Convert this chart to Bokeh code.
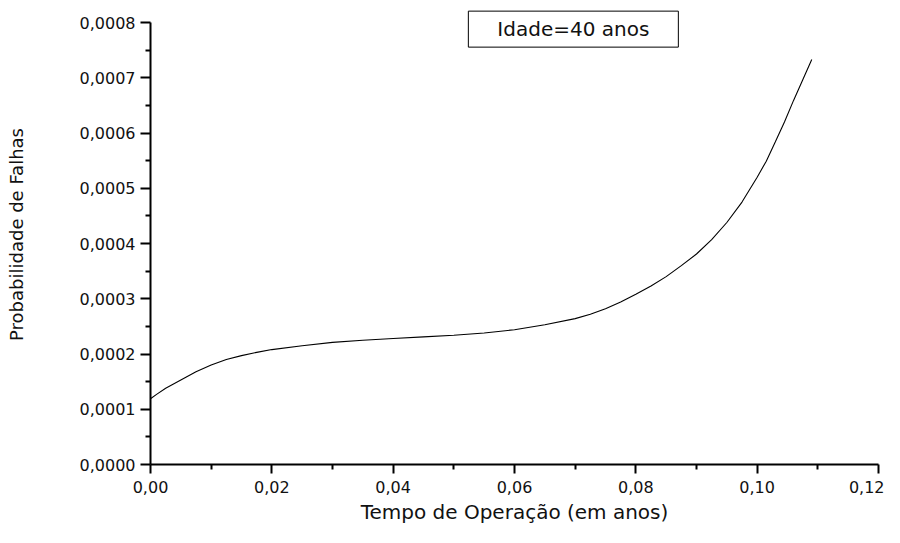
from bokeh.plotting import figure
from bokeh.models import FixedTicker, CustomJSTickFormatter, Label, Range1d
from bokeh.embed import file_html
from bokeh.resources import INLINE

# Data
tempo = [0, 0.001, 0.0025, 0.005, 0.0075, 0.01, 0.0125, 0.015, 0.0175, 0.02,
         0.025, 0.03, 0.035, 0.04, 0.045, 0.05, 0.055, 0.06, 0.065, 0.07,
         0.0725, 0.075, 0.0775, 0.08, 0.0825, 0.085, 0.0875, 0.09, 0.0925,
         0.095, 0.0975, 0.1, 0.1015, 0.103, 0.1045, 0.106, 0.1075, 0.109]
prob = [1.19e-4, 1.27e-4, 1.38e-4, 1.53e-4, 1.68e-4, 1.80e-4, 1.90e-4, 1.97e-4,
        2.03e-4, 2.08e-4, 2.15e-4, 2.21e-4, 2.25e-4, 2.28e-4, 2.31e-4, 2.34e-4,
        2.38e-4, 2.44e-4, 2.53e-4, 2.64e-4, 2.72e-4, 2.82e-4, 2.94e-4, 3.08e-4,
        3.23e-4, 3.40e-4, 3.60e-4, 3.81e-4, 4.07e-4, 4.38e-4, 4.75e-4, 5.20e-4,
        5.49e-4, 5.84e-4, 6.20e-4, 6.59e-4, 6.96e-4, 7.33e-4]
x_ticks = [0.0, 0.02, 0.04, 0.06, 0.08, 0.10, 0.12]
x_minor = [0.01, 0.03, 0.05, 0.07, 0.09, 0.11]
y_ticks = [0.0, 0.0001, 0.0002, 0.0003, 0.0004, 0.0005, 0.0006, 0.0007, 0.0008]
y_minor = [0.00005, 0.00015, 0.00025, 0.00035, 0.00045, 0.00055, 0.00065, 0.00075]
legend_text = "Idade=40 anos"
x_title = "Tempo de Operação (em anos)"
y_title = "Probabilidade de Falhas"

FONT = "DejaVu Sans"

# frame extends a little above the axis top so the legend box is not clipped
y_top = 0.0008
frame_h, axis_h = 460.0, 442.0
p = figure(width=884, height=527, output_backend="svg", toolbar_location=None,
           x_range=Range1d(0, 0.12), y_range=Range1d(0, y_top * frame_h / axis_h),
           min_border_left=150, min_border_right=6, min_border_top=4,
           min_border_bottom=63)
p.outline_line_color = None
p.grid.visible = False
p.background_fill_color = "white"
p.border_fill_color = "white"

p.line(tempo, prob, line_color="black", line_width=1.1)

for ax in (p.xaxis[0], p.yaxis[0]):
    ax.axis_line_width = 2
    ax.axis_line_color = "black"
    ax.major_tick_line_width = 2
    ax.minor_tick_line_width = 2
    ax.major_tick_line_color = "black"
    ax.minor_tick_line_color = "black"
    ax.major_tick_in = 0
    ax.minor_tick_in = 0
    ax.major_label_text_font = FONT
    ax.major_label_text_font_size = "16px"
    ax.major_label_text_color = "#111111"
    ax.axis_label_text_font = FONT
    ax.axis_label_text_font_style = "normal"
    ax.axis_label_text_color = "#111111"

xa = p.xaxis[0]
xa.ticker = FixedTicker(ticks=x_ticks, minor_ticks=x_minor)
xa.formatter = CustomJSTickFormatter(code="return tick.toFixed(2).replace('.', ',');")
xa.major_tick_out = 9
xa.minor_tick_out = 5
xa.major_label_standoff = 7
xa.axis_label = x_title
xa.axis_label_text_font_size = "20px"
xa.axis_label_standoff = 4

ya = p.yaxis[0]
ya.ticker = FixedTicker(ticks=y_ticks, minor_ticks=y_minor)
ya.formatter = CustomJSTickFormatter(code="return tick.toFixed(4).replace('.', ',');")
ya.bounds = (0, y_top)
ya.major_tick_out = 10
ya.minor_tick_out = 5
ya.major_label_standoff = 5
ya.axis_label = y_title
ya.axis_label_text_font_size = "18px"
ya.axis_label_standoff = 50

lbl = Label(x=0.0697, y=0.000788, text=legend_text, text_align="center",
            text_baseline="middle", text_font=FONT, text_font_size="20px",
            text_color="#111111", border_line_color="black", border_line_width=1,
            background_fill_color="white",
            padding=(29, 6))
p.add_layout(lbl)

open("out.html", "w").write(file_html(p, INLINE))
